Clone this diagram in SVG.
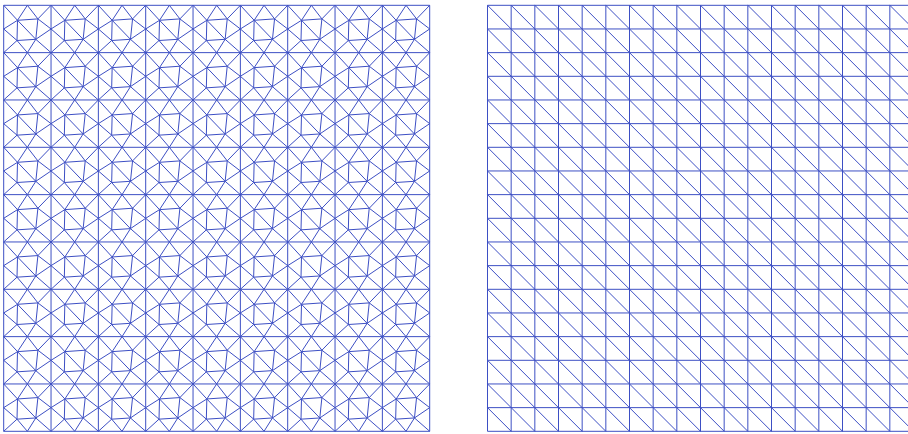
<svg xmlns="http://www.w3.org/2000/svg" xmlns:xlink="http://www.w3.org/1999/xlink" width="908" height="434" viewBox="0 0 908 434">
<style>
.m{fill:none;stroke:#3d4fc4;stroke-width:1}
</style>
<defs>
<path id="cell" class="m" vector-effect="non-scaling-stroke" d="M0 0L.2916 .3169L.5 0L.7226 .2873L1 0M1 1L.6782 .7183L.5 1L.281 .7437L0 1M.2916 .3169L0 .5L.281 .7437M.7226 .2873L1 .5L.6782 .7183M.2916 .3169L.7226 .2873L.6782 .7183L.281 .7437ZM.2916 .3169L.6782 .7183"/>
<g id="row">
<use href="#cell" x="0"/><use href="#cell" x="1"/><use href="#cell" x="2"/><use href="#cell" x="3"/><use href="#cell" x="4"/><use href="#cell" x="5"/><use href="#cell" x="6"/><use href="#cell" x="7"/><use href="#cell" x="8"/>
</g>
</defs>
<rect width="908" height="434" fill="#ffffff"/>
<g id="left-mesh" transform="translate(3.7 5.3) scale(47.3333)">
<use href="#row" y="0"/><use href="#row" y="1"/><use href="#row" y="2"/><use href="#row" y="3"/><use href="#row" y="4"/><use href="#row" y="5"/><use href="#row" y="6"/><use href="#row" y="7"/><use href="#row" y="8"/>
<path class="m" vector-effect="non-scaling-stroke" d="M0 0H9V9H0ZM0 1H9M0 2H9M0 3H9M0 4H9M0 5H9M0 6H9M0 7H9M0 8H9M1 0V9M2 0V9M3 0V9M4 0V9M5 0V9M6 0V9M7 0V9M8 0V9"/>
</g>
<g id="right-mesh" transform="translate(487.5 5.3) scale(23.6667)">
<path class="m" vector-effect="non-scaling-stroke" d="M0 0H18M0 1H18M0 2H18M0 3H18M0 4H18M0 5H18M0 6H18M0 7H18M0 8H18M0 9H18M0 10H18M0 11H18M0 12H18M0 13H18M0 14H18M0 15H18M0 16H18M0 17H18M0 18H18M0 0V18M1 0V18M2 0V18M3 0V18M4 0V18M5 0V18M6 0V18M7 0V18M8 0V18M9 0V18M10 0V18M11 0V18M12 0V18M13 0V18M14 0V18M15 0V18M16 0V18M17 0V18M18 0V18"/>
<path class="m" vector-effect="non-scaling-stroke" d="M0 0L18 18M1 0L18 17M2 0L18 16M3 0L18 15M4 0L18 14M5 0L18 13M6 0L18 12M7 0L18 11M8 0L18 10M9 0L18 9M10 0L18 8M11 0L18 7M12 0L18 6M13 0L18 5M14 0L18 4M15 0L18 3M16 0L18 2M17 0L18 1M0 1L17 18M0 2L16 18M0 3L15 18M0 4L14 18M0 5L13 18M0 6L12 18M0 7L11 18M0 8L10 18M0 9L9 18M0 10L8 18M0 11L7 18M0 12L6 18M0 13L5 18M0 14L4 18M0 15L3 18M0 16L2 18M0 17L1 18"/>
</g>
</svg>
